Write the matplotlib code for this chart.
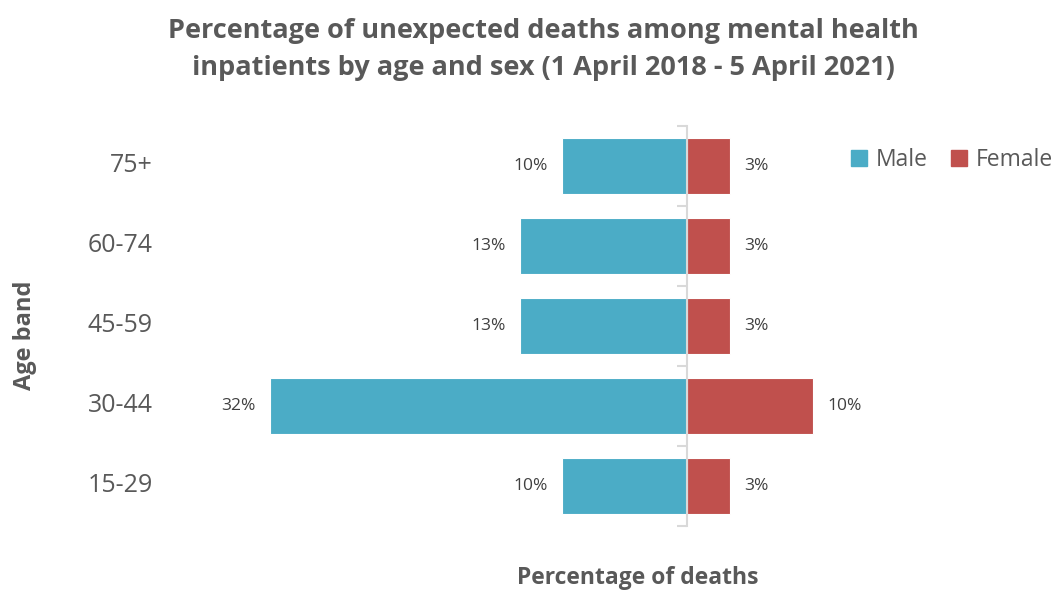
import matplotlib.pyplot as plt
import matplotlib.transforms as mtransforms
from matplotlib.patches import Patch

# data (labels show rounded values)
age_bands = ["15-29", "30-44", "45-59", "60-74", "75+"]
male = [9.6, 32.0, 12.8, 12.8, 9.6]
female = [3.3, 9.7, 3.3, 3.3, 3.3]

male_col = "#4BACC6"
female_col = "#C0504D"
grey = "#595959"

plt.rcParams["font.family"] = ["Open Sans", "DejaVu Sans"]

fig = plt.figure(figsize=(10.57, 5.91), dpi=100)
ax = fig.add_axes([0.157, 0.11, 0.628, 0.677])

y = range(len(age_bands))
ax.barh(y, [-v for v in male], height=0.7, color=male_col, edgecolor="white", linewidth=0.8)
ax.barh(y, female, height=0.7, color=female_col, edgecolor="white", linewidth=0.8)

# value labels
for i, (m, f) in enumerate(zip(male, female)):
    ax.text(-m - 1.1, i, f"{m:.0f}%", ha="right", va="center", fontsize=12.5, color="#404040")
    ax.text(f + 1.1, i, f"{f:.0f}%", ha="left", va="center", fontsize=12.5, color="#404040")

ax.set_xlim(-40, 11)
ax.set_ylim(-0.5, len(age_bands) - 0.5)

# centre axis with tick marks between categories
for s in ["top", "right", "bottom"]:
    ax.spines[s].set_visible(False)
ax.spines["left"].set_position(("data", 0))
ax.spines["left"].set_color("#D9D9D9")
ax.spines["left"].set_linewidth(1.5)
ax.set_xticks([])
ax.set_yticks([])
ax.set_yticks([i - 0.5 for i in range(len(age_bands) + 1)], minor=True)
ax.tick_params(axis="y", which="minor", length=7, width=1.5, color="#D9D9D9", labelleft=False)

# category labels at the low end
trans = mtransforms.blended_transform_factory(ax.transAxes, ax.transData)
for i, lab in enumerate(age_bands):
    ax.text(-0.02, i, lab, transform=trans, ha="right", va="center", fontsize=18, color=grey)

fig.text(0.514, 0.916, "Percentage of unexpected deaths among mental health\n"
         "inpatients by age and sex (1 April 2018 - 5 April 2021)",
         ha="center", va="center", fontsize=19.5, fontweight="bold", color=grey, linespacing=1.55)
fig.text(0.603, 0.022, "Percentage of deaths", ha="center", va="center",
         fontsize=16.5, fontweight="bold", color=grey)
fig.text(0.024, 0.433, "Age band", ha="center", va="center", rotation=90,
         fontsize=17, fontweight="bold", color=grey)

handles = [Patch(color=male_col, label="Male"), Patch(color=female_col, label="Female")]
fig.legend(handles=handles, loc="center right", bbox_to_anchor=(1.016, 0.73), ncol=2,
           frameon=False, fontsize=16.5, handlelength=0.7, handleheight=0.7,
           handletextpad=0.4, columnspacing=1.0, labelcolor=grey)

fig.savefig("out.png", dpi=100)
